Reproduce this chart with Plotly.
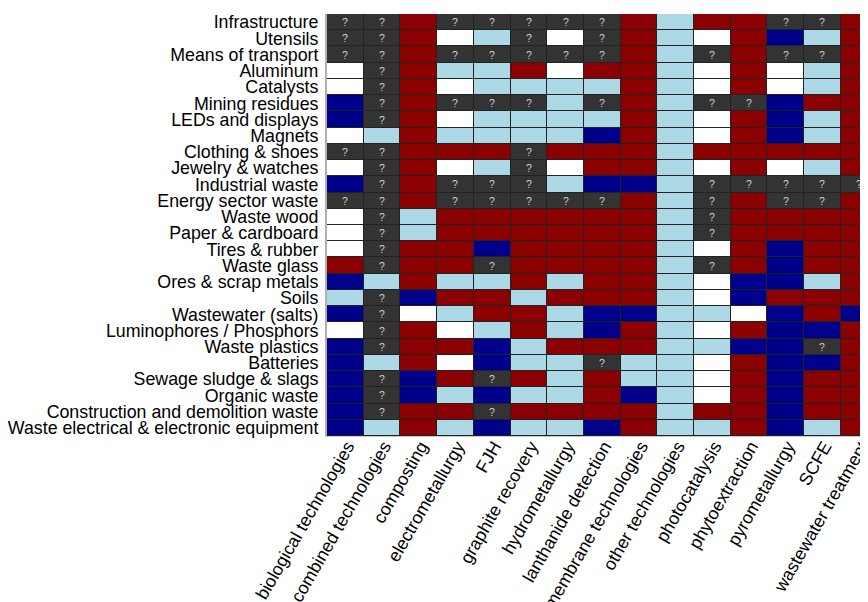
import plotly.graph_objects as go

technologies = [
    "biological technologies", "combined technologies", "composting",
    "electrometallurgy", "FJH", "graphite recovery", "hydrometallurgy",
    "lanthanide detection", "membrane technologies", "other technologies",
    "photocatalysis", "phytoextraction", "pyrometallurgy", "SCFE",
    "wastewater treatment",
]

materials = [
    "Infrastructure", "Utensils", "Means of transport", "Aluminum", "Catalysts",
    "Mining residues", "LEDs and displays", "Magnets", "Clothing & shoes",
    "Jewelry & watches", "Industrial waste", "Energy sector waste", "Waste wood",
    "Paper & cardboard", "Tires & rubber", "Waste glass", "Ores & scrap metals",
    "Soils", "Wastewater (salts)", "Luminophores / Phosphors", "Waste plastics",
    "Batteries", "Sewage sludge & slags", "Organic waste",
    "Construction and demolition waste",
    "Waste electrical & electronic equipment",
]

# status codes: ? unknown, W white, L light blue, N navy, R dark red
status = [
    ["?", "?", "R", "?", "?", "?", "?", "?", "R", "L", "R", "R", "?", "?", "R"],
    ["?", "?", "R", "W", "L", "?", "W", "?", "R", "L", "W", "R", "N", "L", "R"],
    ["?", "?", "R", "?", "?", "?", "?", "?", "R", "L", "?", "R", "?", "?", "R"],
    ["W", "?", "R", "L", "L", "R", "W", "R", "R", "L", "W", "R", "W", "L", "R"],
    ["W", "?", "R", "W", "L", "L", "L", "L", "R", "L", "W", "R", "W", "L", "R"],
    ["N", "?", "R", "?", "?", "?", "L", "?", "R", "L", "?", "?", "N", "R", "R"],
    ["N", "?", "R", "W", "L", "L", "L", "L", "R", "L", "W", "R", "N", "L", "R"],
    ["W", "L", "R", "L", "L", "L", "L", "N", "R", "L", "W", "R", "N", "L", "R"],
    ["?", "?", "R", "R", "R", "?", "R", "R", "R", "L", "R", "R", "R", "R", "R"],
    ["W", "?", "R", "W", "L", "?", "W", "R", "R", "L", "W", "R", "W", "L", "R"],
    ["N", "?", "R", "?", "?", "?", "L", "N", "N", "L", "?", "?", "?", "?", "?"],
    ["?", "?", "R", "?", "?", "?", "?", "?", "R", "L", "?", "R", "?", "?", "R"],
    ["W", "?", "L", "R", "R", "R", "R", "R", "R", "L", "?", "R", "R", "R", "R"],
    ["W", "?", "L", "R", "R", "R", "R", "R", "R", "L", "?", "R", "R", "R", "R"],
    ["W", "?", "R", "R", "N", "R", "R", "R", "R", "L", "W", "R", "N", "R", "R"],
    ["R", "?", "R", "R", "?", "R", "R", "R", "R", "L", "?", "R", "N", "R", "R"],
    ["N", "L", "R", "L", "L", "R", "L", "R", "R", "L", "W", "N", "N", "L", "R"],
    ["L", "?", "N", "R", "R", "L", "R", "R", "R", "L", "W", "N", "R", "R", "R"],
    ["N", "?", "W", "L", "R", "R", "L", "N", "N", "L", "L", "W", "N", "R", "N"],
    ["W", "?", "R", "W", "L", "R", "L", "N", "R", "L", "W", "R", "N", "N", "R"],
    ["N", "?", "R", "R", "N", "L", "R", "R", "R", "L", "L", "N", "N", "?", "R"],
    ["N", "L", "R", "W", "N", "L", "L", "?", "L", "L", "W", "R", "N", "N", "R"],
    ["N", "?", "N", "R", "?", "R", "L", "R", "L", "L", "W", "R", "N", "R", "R"],
    ["N", "?", "N", "L", "N", "L", "L", "R", "N", "L", "W", "R", "N", "R", "R"],
    ["N", "?", "R", "R", "?", "R", "R", "R", "R", "L", "R", "R", "N", "R", "R"],
    ["N", "L", "R", "L", "N", "L", "L", "N", "R", "L", "L", "R", "N", "L", "R"],
]

code_order = ["?", "W", "L", "N", "R"]
code_colors = ["#333333", "#ffffff", "#add8e6", "#00008b", "#8b0000"]

z = [[code_order.index(c) for c in row] for row in status]
txt = [["?" if c == "?" else "" for c in row] for row in status]

n = len(code_order)
colorscale = []
for i, col in enumerate(code_colors):
    colorscale.append([i / n, col])
    colorscale.append([(i + 1) / n, col])

fig = go.Figure(
    go.Heatmap(
        z=z,
        x=list(range(len(technologies))),
        y=list(range(len(materials))),
        text=txt,
        texttemplate="%{text}",
        textfont=dict(color="#d0d0d0", size=10.5, family="Liberation Sans, Arial"),
        colorscale=colorscale,
        zmin=-0.5,
        zmax=n - 0.5,
        showscale=False,
        xgap=1,
        ygap=1,
        hoverinfo="skip",
    )
)

fig.update_layout(
    width=860,
    height=594,
    margin=dict(l=319, r=0, t=6, b=166),
    paper_bgcolor="white",
    plot_bgcolor="#222222",
    font=dict(family="Liberation Sans, Arial, sans-serif", size=17.8, color="black"),
)

fig.update_xaxes(
    range=[-0.5, 14.24],
    tickvals=list(range(len(technologies))),
    ticktext=technologies,
    tickangle=-60,
    showgrid=False,
    zeroline=False,
    ticks="",
    showline=True,
    linecolor="#c8c8c8",
    linewidth=1,
    automargin=False,
    ticklabeloverflow="allow",
    ticklabelstandoff=-8,
    ticklabelshift=2,
    tickfont=dict(size=17.8),
)
fig.update_yaxes(
    range=[len(materials) - 0.5, -0.5],
    tickvals=list(range(len(materials))),
    ticktext=materials,
    showgrid=False,
    zeroline=False,
    ticks="outside",
    ticklen=3,
    tickcolor="white",
    showline=True,
    linecolor="#b0b0b0",
    linewidth=2,
    automargin=False,
    tickfont=dict(size=17.8),
)

fig.write_html("out.html")
